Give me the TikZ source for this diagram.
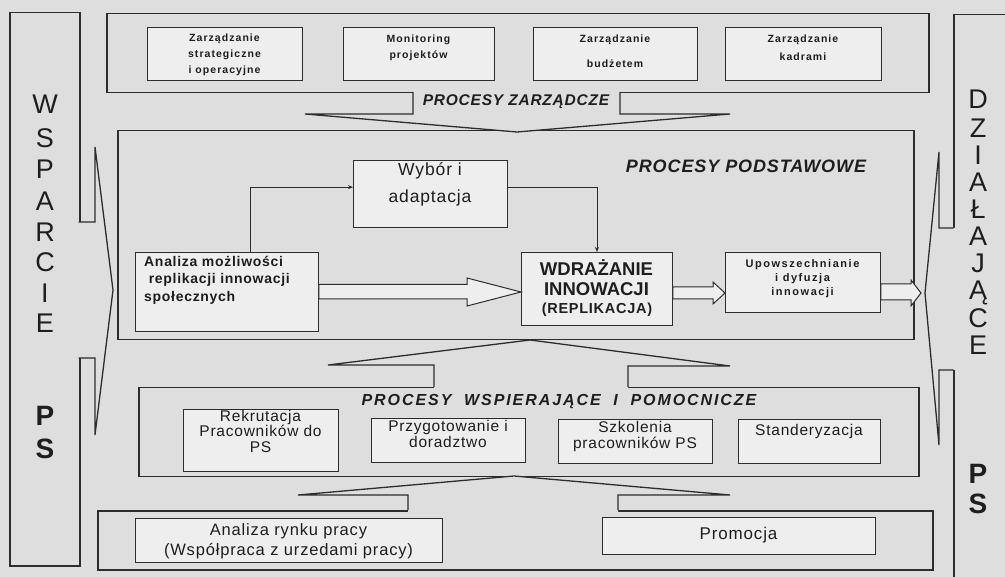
\documentclass[tikz,border=0pt]{standalone}
\usepackage{fontspec}
\setmainfont{Liberation Sans}
\newfontfamily\topfont[LetterSpace=10]{Liberation Sans}
\newfontfamily\spfont[LetterSpace=5]{Liberation Sans}
\newfontfamily\upfont[LetterSpace=14]{Liberation Sans}
\newfontfamily\widefont[LetterSpace=12,WordSpace=2]{Liberation Sans}
\usetikzlibrary{arrows.meta,calc}
\definecolor{bg}{RGB}{222,222,222}
\definecolor{boxw}{RGB}{238,238,238}
\definecolor{ln}{RGB}{45,45,45}
\definecolor{txt}{RGB}{30,30,30}
\newcommand\BX[5]{\node[bx,minimum width=#4pt,minimum height=#5pt] (#1) at (#2,#3) {};}
\begin{document}
\begin{tikzpicture}[x=1pt,y=-1pt,
  cont/.style={draw=ln,line width=1.5pt,fill=bg,inner sep=0,anchor=north west},
  bx/.style={draw=ln,line width=0.9pt,fill=boxw,inner sep=0,anchor=north west},
  lbl/.style={inner sep=0,align=center,text=txt},
  harrow/.style={draw=ln,line width=1pt,fill=boxw,line join=miter},
  bfill/.style={fill=bg,draw=none},
  barrow/.style={draw=ln,line width=1.3pt,line join=miter},
  conn/.style={draw=ln,line width=0.8pt,-{Stealth[length=5pt,width=4pt]}},
  bigl/.style={inner sep=0,anchor=base,text=txt,font=\fontsize{27}{28}\selectfont},
  bigb/.style={inner sep=0,anchor=base,text=txt,font=\fontsize{28}{29}\selectfont\bfseries}]
\fill[bg] (0,0) rectangle (1005,577);
\useasboundingbox (0,0) rectangle (1005,577);
\clip (0,0) rectangle (1005,577);

% side bars
\node[cont,minimum width=70pt,minimum height=553pt] (lbar) at (9,12) {};
\node[cont,minimum width=60pt,minimum height=580pt] (rbar) at (953,14) {};

% containers
\node[cont,minimum width=822pt,minimum height=79pt] (mgmt) at (106,13) {};
\node[cont,minimum width=796pt,minimum height=209pt] (basic) at (117,130) {};
\node[cont,minimum width=780pt,minimum height=89pt] (supp) at (138,387) {};
\node[cont,minimum width=835pt,minimum height=59pt] (bott) at (97,510) {};

% side block arrows
\fill[bfill] (76,222) -- (95,222) -- (95,147) -- (113,290) -- (95,435) -- (95,358) -- (76,358) -- cycle;
\draw[barrow] (78.5,222) -- (95,222) -- (95,147) -- (113,290) -- (95,435) -- (95,358) -- (78.5,358);
\fill[bfill] (956,228) -- (939,228) -- (939,152) -- (925,293) -- (939,445) -- (939,370) -- (956,370) -- cycle;
\draw[barrow] (953.5,228) -- (939,228) -- (939,152) -- (925,293) -- (939,445) -- (939,370) -- (953.5,370);

% management -> basic (down)
\fill[bfill] (413,90) -- (413,114) -- (305,114) -- (517,132) -- (730,114) -- (620,114) -- (620,90) -- cycle;
\draw[barrow] (413,92) -- (413,114) -- (305,114) -- (517,132) -- (730,114) -- (620,114) -- (620,92);
\node[lbl,font=\fontsize{15.5}{17}\spfont\bfseries\itshape] (lz) at (516,102) {PROCESY ZARZĄDCZE};

% support -> basic (up)
\fill[bfill] (434,389) -- (434,365) -- (328,365) -- (530,340) -- (730,366) -- (628,366) -- (628,389) -- cycle;
\draw[barrow] (434,387) -- (434,365) -- (328,365) -- (530,340) -- (730,366) -- (628,366) -- (628,387);

% bottom -> support (up)
\fill[bfill] (408,512) -- (408,495) -- (298,495) -- (514,476) -- (730,495) -- (618,495) -- (618,512) -- cycle;
\draw[barrow] (408,510) -- (408,495) -- (298,495) -- (514,476) -- (730,495) -- (618,495) -- (618,510);

% bar letters (baselines)
\foreach \l/\y [count=\i] in {W/114,S/148,P/179,A/211,R/242,C/272,I/303,E/333}
  \node[bigl] (lw\i) at (45,\y) {\l};
\node[bigb] (lp) at (45,426) {P};
\node[bigb] (ls) at (45,459) {S};
\foreach \l/\y [count=\i] in {D/109,Z/138,I/165,A/192,Ł/219,A/246,J/273,Ą/300,C/328,E/355}
  \node[bigl] (rd\i) at (978,\y) {\l};
\node[bigb] (rp) at (978,483) {P};
\node[bigb] (rs) at (978,513) {S};

% management boxes
\BX{zs}{147}{27}{155}{53}
\BX{mp}{343}{27}{151}{53}
\BX{zb}{533}{27}{164}{53}
\BX{zk}{725}{27}{156}{53}
\node[lbl,font=\fontsize{10.5}{16}\topfont\bfseries] (zs-t) at (224.5,54.5) {Zarządzanie\\strategiczne\\i operacyjne};
\node[lbl,font=\fontsize{10.5}{16}\topfont\bfseries] (mp-t) at (418.5,47.5) {Monitoring\\projektów};
\node[lbl,font=\fontsize{10.5}{25}\topfont\bfseries] (zb-t) at (615,51) {Zarządzanie\\budżetem};
\node[lbl,font=\fontsize{10.5}{18}\topfont\bfseries] (zk-t) at (803,47.5) {Zarządzanie\\kadrami};

% basic processes
\node[lbl,font=\fontsize{18}{20}\spfont\bfseries\itshape] (lb) at (746,166) {PROCESY PODSTAWOWE};
\BX{wy}{353}{160}{154}{67}
\node[lbl,font=\fontsize{17.5}{27}\spfont] (wy-t) at (430,184) {Wybór i\\adaptacja};
\BX{an}{135}{252}{183}{79}
\node[lbl,align=left,anchor=north west,font=\fontsize{14}{17.5}\spfont\bfseries] (an-t) at (144,256) {Analiza możliwości\\\ replikacji innowacji\\społecznych};
\BX{wd}{521}{252}{151}{73}
\node[lbl,font=\fontsize{18.5}{20}\selectfont\bfseries] (wd-t) at (596.5,278) {WDRAŻANIE\\INNOWACJI};
\node[lbl,font=\fontsize{14.5}{16}\spfont\bfseries] (wd-t2) at (597,310) {(REPLIKACJA)};
\BX{up}{725}{252}{155}{60}
\node[lbl,font=\fontsize{11}{14}\upfont\bfseries] (up-t) at (802.5,279) {Upowszechnianie\\i dyfuzja\\innowacji};

\draw[conn] ($(an.north west)+(115,0)$) |- ($(wy.north west)!0.4!(wy.south west)$);
\draw[conn] ($(wy.north east)!0.4!(wy.south east)$) -| (wd.north);

\draw[harrow] (an.east |- 0,284.5) -- (467,284.5) -- (467,278) -- (wd.west |- 0,292) -- (467,306) -- (467,299) -- (an.east |- 0,299) -- cycle;
\draw[harrow] (wd.east |- 0,287) -- (713,287) -- (713,282) -- (up.west |- 0,293) -- (713,304) -- (713,299) -- (wd.east |- 0,299) -- cycle;
\draw[harrow] (up.east |- 0,284) -- (911,284) -- (911,280) -- (921,293) -- (911,306) -- (911,300) -- (up.east |- 0,300) -- cycle;

% support processes
\node[lbl,font=\fontsize{16}{17}\widefont\bfseries\itshape] (ls2) at (559,402) {PROCESY WSPIERAJĄCE I POMOCNICZE};
\BX{rk}{183}{409}{155}{62}
\node[lbl,font=\fontsize{15.5}{15.5}\spfont] (rk-t) at (260.5,431) {Rekrutacja\\Pracowników do\\PS};
\BX{pd}{371}{418}{154}{44}
\node[lbl,font=\fontsize{15.5}{15.5}\spfont] (pd-t) at (448,434) {Przygotowanie i\\doradztwo};
\BX{sz}{558}{419}{154}{44}
\node[lbl,font=\fontsize{15.5}{16}\spfont] (sz-t) at (635,436) {Szkolenia\\pracowników PS};
\BX{st}{738}{419}{142}{44}
\node[lbl,font=\fontsize{15.5}{16}\spfont] (st-t) at (809,431) {Standeryzacja};

% bottom
\BX{ar}{135}{518}{307}{44}
\node[lbl,font=\fontsize{16.5}{20}\spfont] (ar-t) at (288.5,541) {Analiza rynku pracy\\(Współpraca z urzedami pracy)};
\BX{pr}{602}{517}{273}{37}
\node[lbl,font=\fontsize{17}{17}\spfont] (pr-t) at (738.5,535.5) {Promocja};
\end{tikzpicture}
\end{document}
